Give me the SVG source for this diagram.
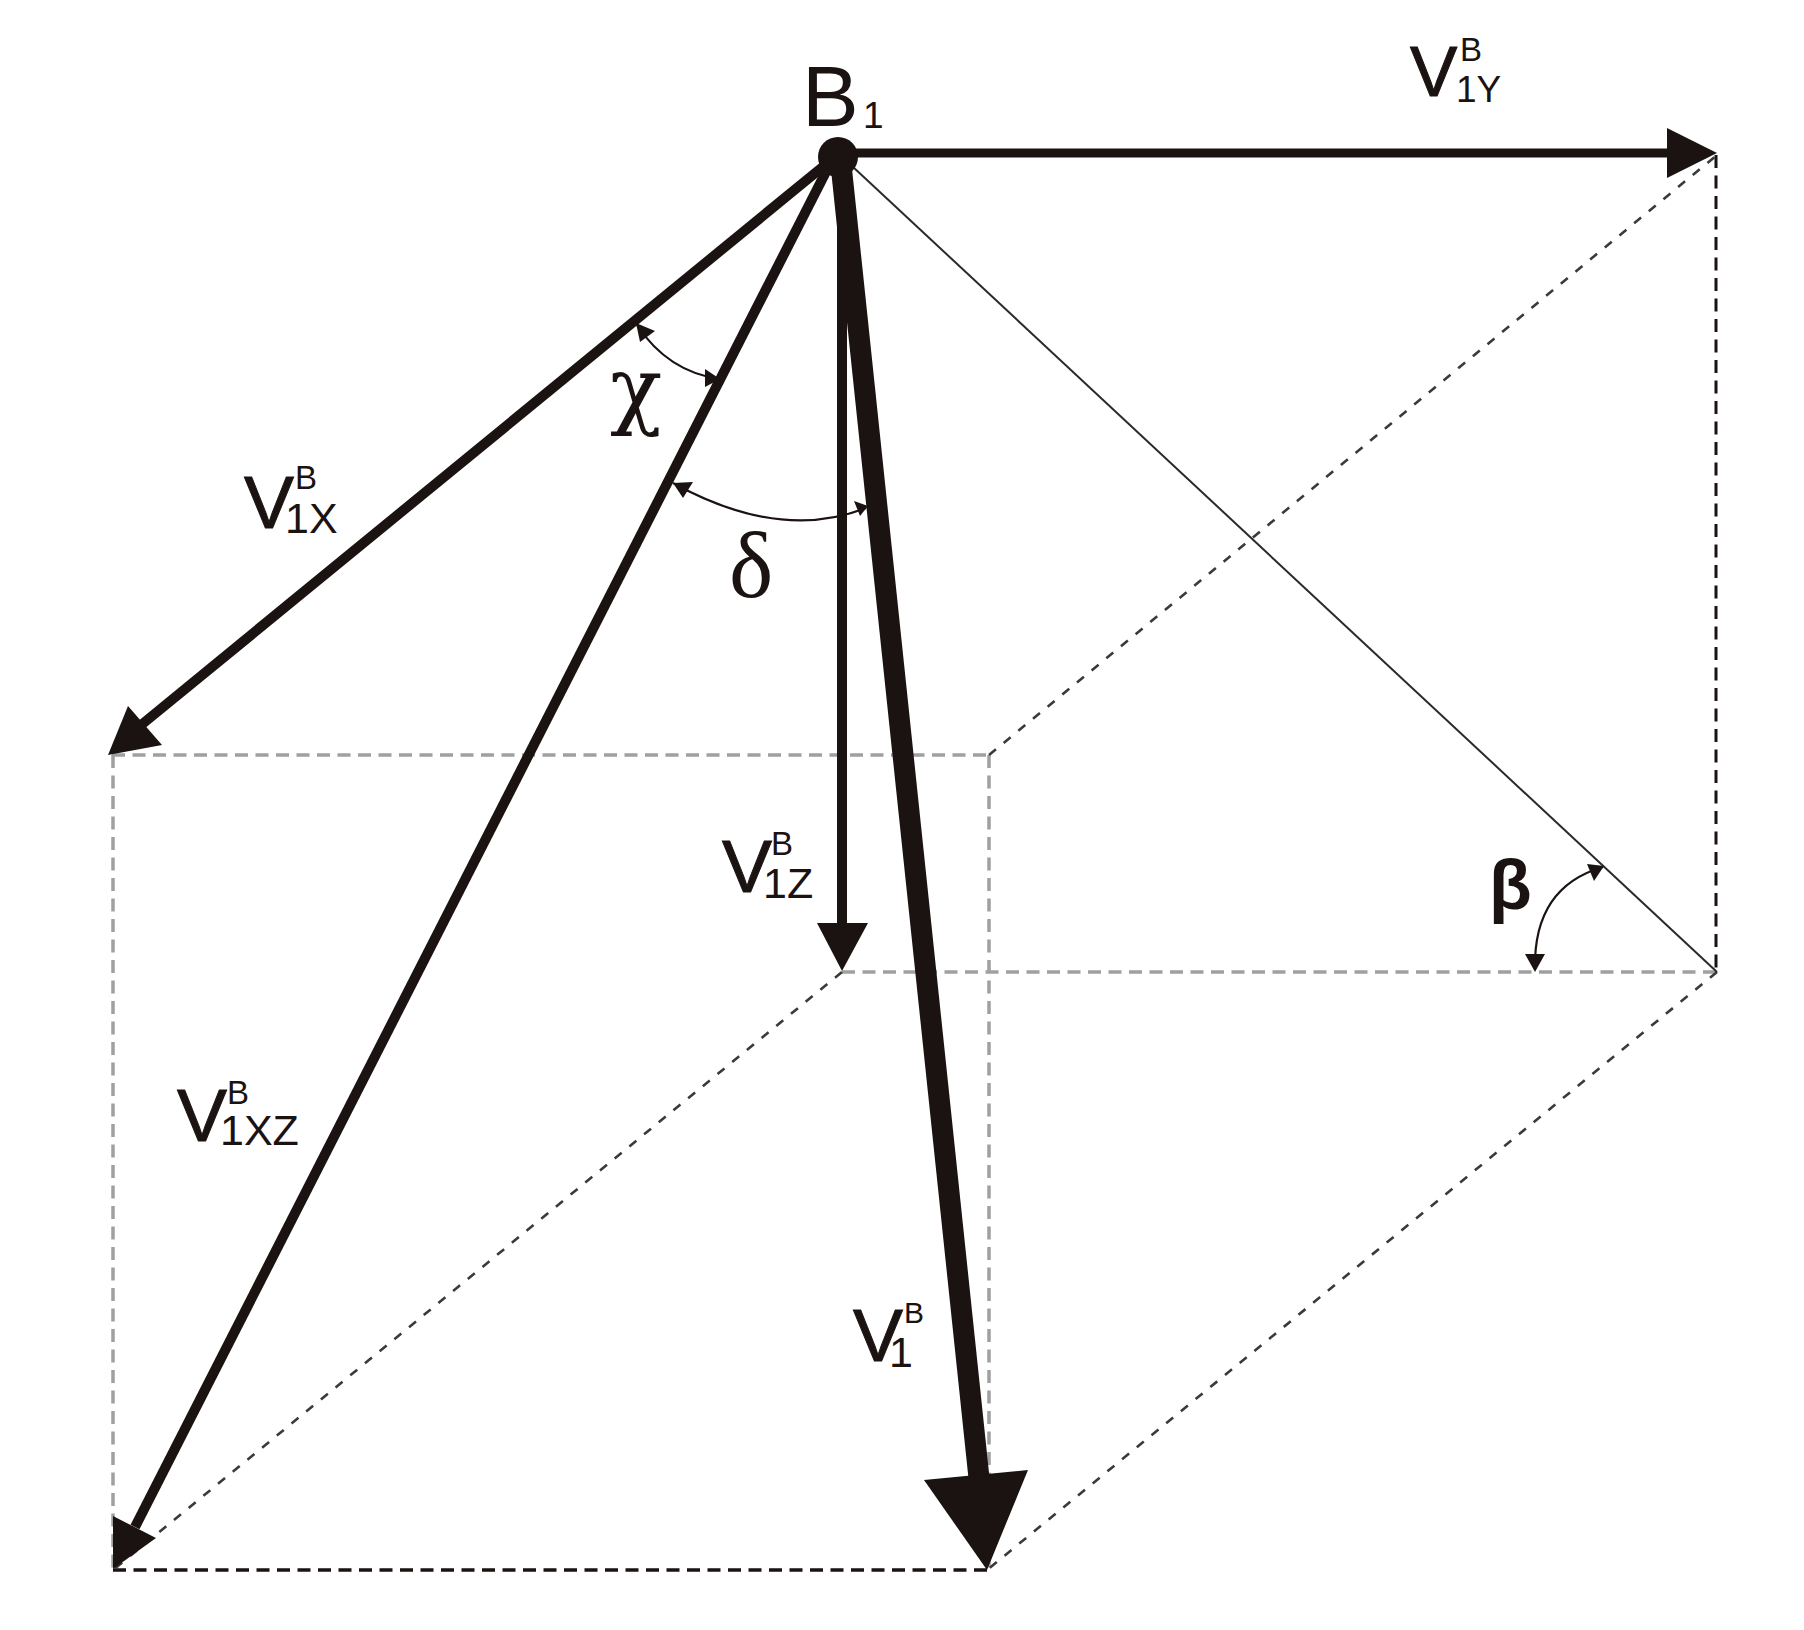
<svg xmlns="http://www.w3.org/2000/svg" width="1804" height="1630" viewBox="0 0 1804 1630">
<style>
.d{fill:none;stroke-width:3.5;stroke-dasharray:13 7.5}
.g{stroke:#a0a0a0}
.b{stroke:#1a1311}
.t{stroke-width:3}
.n{stroke:#3a3a3a;stroke-width:2.6;stroke-dasharray:9 10;fill:none}
.l{stroke:#1a1311;fill:none;stroke-linecap:butt}
.h{fill:#1a1311;stroke:none}
.a{stroke:#1a1311;stroke-width:2.2;fill:none}
text{fill:#1a1311;font-family:"Liberation Sans",Arial,sans-serif}
.v{font-size:75px;stroke:#1a1311;stroke-width:1}
.s{font-size:33px}
.u{font-size:43px}
.gr{font-family:"Liberation Serif","DejaVu Serif",serif;font-size:92px}
</style>
<rect width="1804" height="1630" fill="#fff"/>
<g id="connectors">
<g id="box-lines">
<path class="d g" d="M112 755H989"/>
<path class="d g" d="M113 755V1570"/>
<path class="d g" d="M989 755V1570"/>
<path class="d g" d="M842 972H1717"/>
<path class="d b" d="M113 1570H987"/>
<path class="d b t" d="M1716 155V972"/>
<path class="n" d="M989 755L1717 155"/>
<path class="n" d="M842 972L113 1570"/>
<path class="n" d="M1717 972L987 1570"/>
</g>
<path id="thin-line" d="M838 153L1717 972" stroke="#2a2a2a" stroke-width="2" fill="none"/>
<path id="v1y" class="l" stroke-width="9" d="M838 153H1675"/>
<polygon class="h" points="1717,153 1667,128 1667,178"/>
<path id="v1x" class="l" stroke-width="10" d="M825 165L135 730"/>
<polygon class="h" points="108,755 128,706 162,745"/>
<path id="v1xz" class="l" stroke-width="10" d="M832 160L135 1527"/>
<polygon class="h" points="113,1569 113,1516 156,1538"/>
<path id="v1z" class="l" stroke-width="10" d="M842 153V930"/>
<polygon class="h" points="842,971 817,923 868,923"/>
<path id="v1" class="l" stroke-width="21" d="M840 155L979 1478"/>
<polygon class="h" points="987,1570 924,1480 1028,1470"/>
<path id="chi-arc" class="a" d="M637 325Q668 372 720 379"/>
<polygon class="h" points="636,323 655,331 640,342"/>
<polygon class="h" points="720,379 705,369 705,387"/>
<path id="delta-arc" class="a" d="M673 483Q780 542 866 508"/>
<polygon class="h" points="673,483 693,482 683,498"/>
<polygon class="h" points="868,506 854,501 860,516"/>
<path id="beta-arc" class="a" stroke-width="3" d="M1535 968C1534 905 1565 878 1603 867"/>
<polygon class="h" points="1535,972 1525,954 1545,954"/>
<polygon class="h" points="1604,866 1587,864 1594,881"/>
</g>
<g id="node-b1">
<circle cx="838" cy="157" r="20" fill="#1a1311"/>
<text x="802" y="126" font-size="85">B</text>
<text x="863" y="128" font-size="37">1</text>
</g>
<g id="label-v1y">
<text x="1410" y="96" class="v" style="font-size:71px">V</text><text x="1460" y="61" class="s">B</text><text x="1456" y="102" font-size="37">1Y</text>
</g>
<g id="label-v1x">
<text x="244" y="528" class="v">V</text><text x="295" y="489" class="s">B</text><text x="285" y="533" class="u">1X</text>
</g>
<g id="label-v1z">
<text x="722" y="892" class="v">V</text><text x="771" y="855" class="s">B</text><text x="763" y="898" class="u">1Z</text>
</g>
<g id="label-v1xz">
<text x="177" y="1141" class="v">V</text><text x="227" y="1104" class="s">B</text><text x="220" y="1145" class="u">1XZ</text>
</g>
<g id="label-v1">
<text x="853" y="1361" class="v">V</text><text x="904" y="1323" class="s" style="font-size:30px">B</text><text x="889" y="1367" class="u">1</text>
</g>
<g id="label-chi"><text x="610" y="418" style="font-family:'DejaVu Serif',serif;font-size:86px">χ</text></g>
<g id="label-delta"><text x="729" y="597" class="gr" style="font-size:94px">δ</text></g>
<g id="label-beta"><text x="1489" y="909" font-size="70" font-weight="bold">β</text></g>
</svg>
